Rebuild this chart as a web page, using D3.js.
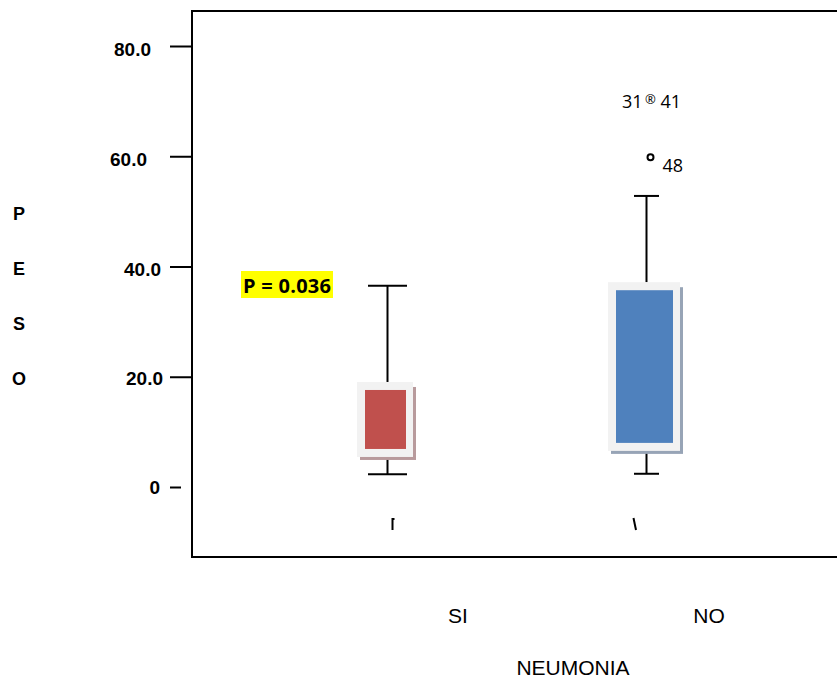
<!DOCTYPE html>
<html>
<head>
<meta charset="utf-8">
<script src="https://cdn.jsdelivr.net/npm/d3@7"></script>
<style>
  html, body { margin: 0; padding: 0; background: #fff; }
  svg { display: block; }
</style>
</head>
<body>
<svg id="chart" width="837" height="681"></svg>
<script>
// ---- data ----
const categories = ["SI", "NO"];
const q1 = [6.9, 8.0];
const q3 = [17.6, 35.7];
const whiskerLow = [2.3, 2.4];
const whiskerHigh = [36.5, 52.8];
const outliers = [
  { cat: "NO", value: 70.2, symbol: "®", labels: ["31", "41"] },
  { cat: "NO", value: 59.8, symbol: "°", labels: ["", "48"] }
];
const yTicks = [0, 20, 40, 60, 80];
const yTickLabels = ["0", "20.0", "40.0", "60.0", "80.0"];
const pValueText = "P = 0.036";
const yTitle = ["P", "E", "S", "O"];
const xTitle = "NEUMONIA";

// ---- style ----
const boxColor = ["#c0504d", "#4f81bd"];
const shadowColor = ["#b89a9c", "#97a4b6"];
const frameColor = "#f2f2f2";
const boxHalfW = [20.5, 28.5];
const capHalfW = [19.5, 12.5];
const tickLabelDx = { 0: 0, 20: 3, 40: 1, 60: -13, 80: -9 };
const tickLabelDy = { 0: 0, 20: 2, 40: 3, 60: 3, 80: 3 };

const svg = d3.select("#chart");
const y = d3.scaleLinear().domain([0, 80]).range([487, 46]);
const x = d3.scalePoint().domain(categories).range([385.5, 644.5]);
const xLabel = d3.scalePoint().domain(categories).range([458, 709]);

// frame
svg.append("path")
  .attr("d", "M 838 11 H 192 V 557 H 838")
  .attr("fill", "none").attr("stroke", "#000").attr("stroke-width", 2);

// y axis ticks
const axis = d3.axisLeft(y).tickValues(yTicks)
  .tickFormat((d, i) => yTickLabels[i]).tickSize(21).tickPadding(10);
const gA = svg.append("g").attr("transform", "translate(191,0)").call(axis);
gA.select(".domain").remove();
gA.selectAll(".tick line").attr("stroke", "#000").attr("stroke-width", 2);
gA.selectAll(".tick").filter(d => d === 0).select("line").attr("x1", -10).attr("x2", -21);
gA.selectAll(".tick text")
  .attr("font-family", "Liberation Sans, Arial, sans-serif")
  .attr("font-weight", "bold").attr("font-size", 19).attr("fill", "#000")
  .attr("dx", d => tickLabelDx[d])
  .attr("transform", d => `translate(0,${tickLabelDy[d]})`);

// boxes
categories.forEach((c, i) => {
  const cx = x(c);
  const wx = cx + 2;
  const g = svg.append("g");
  const top = y(q3[i]), bot = y(q1[i]);
  // whiskers
  g.append("line").attr("x1", wx).attr("x2", wx)
    .attr("y1", y(whiskerHigh[i])).attr("y2", top - 8)
    .attr("stroke", "#000").attr("stroke-width", 2);
  g.append("line").attr("x1", wx).attr("x2", wx)
    .attr("y1", bot + 8).attr("y2", y(whiskerLow[i]))
    .attr("stroke", "#000").attr("stroke-width", 2);
  [whiskerHigh[i], whiskerLow[i]].forEach(v => {
    g.append("line").attr("x1", wx - capHalfW[i]).attr("x2", wx + capHalfW[i])
      .attr("y1", y(v)).attr("y2", y(v))
      .attr("stroke", "#000").attr("stroke-width", 2);
  });
  // shadow
  g.append("rect")
    .attr("x", cx - boxHalfW[i] - 5).attr("y", top - 3)
    .attr("width", 2 * boxHalfW[i] + 15).attr("height", bot - top + 14)
    .attr("fill", shadowColor[i]);
  // light frame
  g.append("rect")
    .attr("x", cx - boxHalfW[i] - 8).attr("y", top - 8)
    .attr("width", 2 * boxHalfW[i] + 15).attr("height", bot - top + 16)
    .attr("fill", frameColor);
  // colored box
  g.append("rect")
    .attr("x", cx - boxHalfW[i]).attr("y", top)
    .attr("width", 2 * boxHalfW[i]).attr("height", bot - top)
    .attr("fill", boxColor[i]);
});

// small marks below boxes
svg.append("path").attr("d", `M ${x("SI") + 7} 530 V 519 H ${x("SI") + 9}`)
  .attr("fill", "none").attr("stroke", "#000").attr("stroke-width", 2);
svg.append("line").attr("x1", x("NO") - 11).attr("y1", 518)
  .attr("x2", x("NO") - 8.5).attr("y2", 530)
  .attr("stroke", "#000").attr("stroke-width", 2);

// outliers
outliers.forEach(o => {
  const ox = x(o.cat) + 6;
  const oy = y(o.value);
  const g = svg.append("g").attr("font-family", "Open Sans, Noto Sans, sans-serif").attr("fill", "#000");
  if (o.symbol === "°") {
    g.append("circle").attr("cx", ox).attr("cy", oy).attr("r", 3)
      .attr("fill", "none").attr("stroke", "#000").attr("stroke-width", 2);
  } else {
    g.append("text").attr("x", ox).attr("y", oy + 4).attr("text-anchor", "middle")
      .attr("font-size", 13).text(o.symbol);
  }
  if (o.labels[0]) g.append("text").attr("x", ox - 8).attr("y", oy + 8)
    .attr("text-anchor", "end").attr("font-size", 18).text(o.labels[0]);
  if (o.labels[1]) g.append("text").attr("x", ox + (o.labels[0] ? 10 : 12)).attr("y", oy + (o.labels[0] ? 8 : 15))
    .attr("font-size", 18).text(o.labels[1]);
});

// p value
const pg = svg.append("g");
pg.append("rect").attr("x", 241).attr("y", 271).attr("width", 92).attr("height", 27).attr("fill", "#ffff00");
pg.append("text").attr("x", 287).attr("y", 293).attr("text-anchor", "middle")
  .attr("font-family", "Open Sans, sans-serif").attr("font-weight", "bold")
  .attr("font-size", 20).attr("textLength", 88).attr("fill", "#000").text(pValueText);

// y title
svg.append("g").selectAll("text").data(yTitle).join("text")
  .attr("x", 19).attr("y", (d, i) => 220 + i * 55)
  .attr("text-anchor", "middle")
  .attr("font-family", "Liberation Sans, Arial, sans-serif")
  .attr("font-weight", "bold").attr("font-size", 18).text(d => d);

// x category labels
svg.append("g").selectAll("text").data(categories).join("text")
  .attr("x", d => xLabel(d)).attr("y", 623)
  .attr("text-anchor", "middle")
  .attr("font-family", "Liberation Sans, Arial, sans-serif")
  .attr("font-size", 21).text(d => d);

svg.append("text").attr("x", 573).attr("y", 675).attr("text-anchor", "middle")
  .attr("font-family", "Liberation Sans, Arial, sans-serif")
  .attr("font-size", 21).text(xTitle);
</script>
</body>
</html>
